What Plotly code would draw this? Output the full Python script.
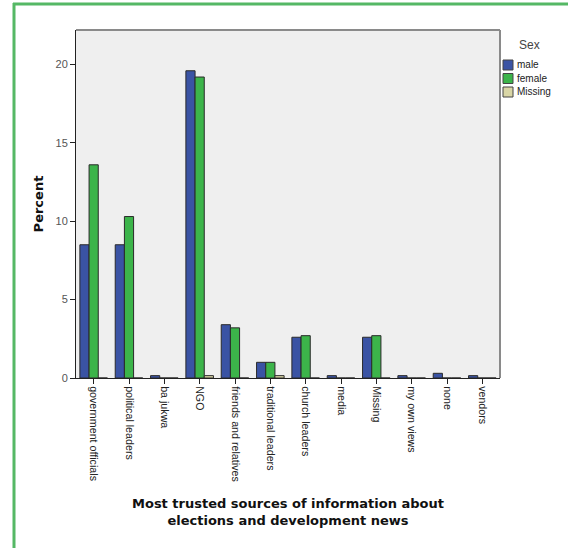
import plotly.graph_objects as go

categories = ["government officials", "political leaders", "ba jukwa", "NGO",
              "friends and relatives", "traditional leaders", "church leaders",
              "media", "Missing", "my own views", "none", "vendors"]
male = [8.5, 8.5, 0.15, 19.6, 3.4, 1.0, 2.6, 0.15, 2.6, 0.15, 0.3, 0.15]
female = [13.6, 10.3, 0.0, 19.2, 3.2, 1.0, 2.7, 0.0, 2.7, 0.0, 0.0, 0.0]
missing = [0.0, 0.0, 0.0, 0.15, 0.0, 0.15, 0.0, 0.0, 0.0, 0.0, 0.0, 0.0]
series_names = ["male", "female", "Missing"]
series_colors = ["#3a53a4", "#3cb44a", "#d9d6a6"]
y_ticks = [0, 5, 10, 15, 20]

fig = go.Figure()
for name, vals, col in zip(series_names, [male, female, missing], series_colors):
    fig.add_trace(go.Bar(x=categories, y=vals, name=name, showlegend=False,
                         marker=dict(color=col, line=dict(color="#2a2a2a", width=1))))

L, R, T, B = 76, 68, 30, 170
W, H = 568, 548
pw, ph = W - L - R, H - T - B

def px(x):
    return (x - L) / pw

def py(y):
    return (H - B - y) / ph

shapes = [
    dict(type="line", xref="paper", yref="paper", x0=px(14), x1=px(14), y0=py(560), y1=py(3),
         line=dict(color="#55b865", width=3)),
    dict(type="line", xref="paper", yref="paper", x0=px(13), x1=px(580), y0=py(4), y1=py(4),
         line=dict(color="#55b865", width=3)),
    dict(type="line", xref="paper", yref="paper", x0=0, x1=1, y0=1, y1=1,
         line=dict(color="#8a8a8a", width=2)),
    dict(type="line", xref="paper", yref="paper", x0=1, x1=1, y0=0, y1=1,
         line=dict(color="#8a8a8a", width=2)),
]
annotations = [dict(text="Sex", xref="paper", yref="paper", x=px(517), y=py(45),
                    xanchor="left", yanchor="middle", showarrow=False,
                    font=dict(size=12, color="#444"))]
for i, (name, col) in enumerate(zip(series_names, series_colors)):
    cy = 65 + i * 13.5
    shapes.append(dict(type="rect", xref="paper", yref="paper",
                       x0=px(503), x1=px(513), y0=py(cy - 5), y1=py(cy + 5),
                       fillcolor=col, line=dict(color="#444", width=1)))
    annotations.append(dict(text=name, xref="paper", yref="paper", x=px(515), y=py(cy),
                            xanchor="left", yanchor="middle", showarrow=False,
                            font=dict(size=10, color="#222")))

title_font = dict(family="DejaVu Sans", size=13, color="#111")

fig.update_layout(
    width=W, height=H,
    margin=dict(l=L, r=R, t=T, b=B, autoexpand=False),
    paper_bgcolor="white", plot_bgcolor="#efefef",
    barmode="group", bargap=0.22, bargroupgap=0,
    font=dict(family="Liberation Sans, Arial", size=11, color="#222"),
    shapes=shapes, annotations=annotations,
    showlegend=False,
)
fig.update_xaxes(
    showline=True, linecolor="#222", linewidth=1, mirror=False, automargin=False,
    ticks="outside", ticklen=5, tickcolor="#222", tickangle=90,
    tickfont=dict(size=10.7, color="#222"),
    title=dict(text="<b>Most trusted sources of information about<br>elections and development news</b>",
               font=title_font, standoff=18),
    showgrid=False,
)
fig.update_yaxes(
    range=[0, 22.2], tickvals=y_ticks, automargin=False,
    showline=True, linecolor="#222", linewidth=1,
    ticks="outside", ticklen=5, tickcolor="#222",
    tickfont=dict(size=11, color="#555"),
    title=dict(text="<b>Percent</b>", font=title_font, standoff=8),
    showgrid=False, zeroline=False,
)
fig.write_html("out.html", config={"displayModeBar": False},
               post_script="document.body.style.margin='0';document.body.style.overflow='hidden';")
